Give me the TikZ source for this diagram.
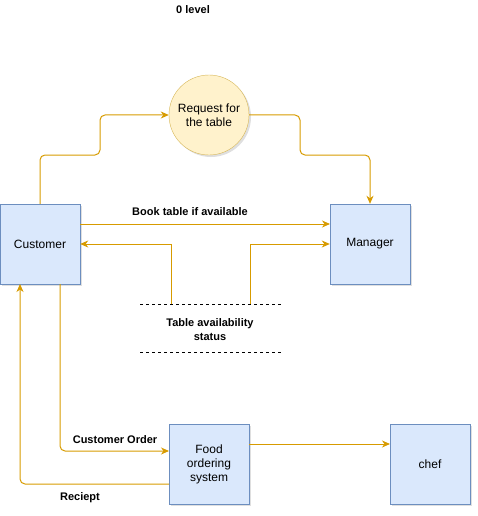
\documentclass[tikz,border=0pt]{standalone}
\usepackage{fontspec}
\setmainfont{Liberation Sans}
\usetikzlibrary{arrows.meta,shadows}
\definecolor{boxfill}{HTML}{DAE8FC}
\definecolor{boxline}{HTML}{6C8EBF}
\definecolor{circfill}{HTML}{FFF2CC}
\definecolor{circline}{HTML}{D6B656}
\definecolor{flow}{HTML}{D79B00}
\tikzset{
  procbox/.style={draw=boxline, fill=boxfill, minimum width=80pt, minimum height=80pt, inner sep=0pt, align=center, font=\fontsize{12pt}{14pt}\selectfont, drop shadow={shadow xshift=2pt, shadow yshift=-2pt, opacity=0.25}},
  proccirc/.style={circle, draw=circline, fill=circfill, minimum size=80pt, inner sep=0pt, align=center, font=\fontsize{12pt}{14pt}\selectfont, drop shadow={shadow xshift=2pt, shadow yshift=-2pt, opacity=0.25}},
  flowline/.style={draw=flow, line width=1pt, rounded corners=5pt, -{Stealth[length=8pt,width=7pt,inset=2.5pt]}},
  lbl/.style={font=\bfseries\fontsize{11pt}{14pt}\selectfont, inner sep=0pt, align=center},
  dashline/.style={draw=black, line width=0.8pt, dash pattern=on 3pt off 3pt}
}
\begin{document}
\begin{tikzpicture}[x=1pt,y=-1pt]
\useasboundingbox (0,0) rectangle (477,516);
\node[procbox] (cust) at (40,244) {Customer};
\node[procbox] (mgr) at (370,244) {Manager};
\node[proccirc] (req) at (209,115) {Request for\\the table};
\node[procbox] (food) at (209,464) {Food\\ordering\\system};
\node[procbox] (chef) at (430,464) {chef};
\node[lbl] (title) at (193,10) {0 level};
\node[lbl] (book) at (190,212) {Book table if available};
\node[lbl] (status) at (210,330) {Table availability\\status};
\node[lbl] (order) at (115,440) {Customer Order};
\node[lbl] (rec) at (80,498) {Reciept};
\coordinate (d1a) at (140,304);
\coordinate (d1b) at (282,304);
\coordinate (d2a) at (140,352);
\coordinate (d2b) at (282,352);
\draw[dashline] (d1a) -- (d1b);
\draw[dashline] (d2a) -- (d2b);
% connectors
\draw[flowline] (cust.north) -- (40,155) -- (100,155) -- (100,115) -- (req.west);
\draw[flowline] (req.east) -- (300,115) -- (300,155) -- (370,155) -- (mgr.north);
\draw[flowline] (80,224) -- (330,224);
\coordinate (s1) at (171,304);
\coordinate (s2) at (250,304);
\draw[flowline, rounded corners=0pt] (s1) -- (171,244) -- (cust.east);
\draw[flowline, rounded corners=0pt] (s2) -- (250,244) -- (mgr.west);
\draw[flowline] (60,284) -- (60,451) -- (169,451);
\draw[flowline] (169,484) -- (20,484) -- (20,284);
\draw[flowline] (249,444) -- (390,444);
\end{tikzpicture}
\end{document}
